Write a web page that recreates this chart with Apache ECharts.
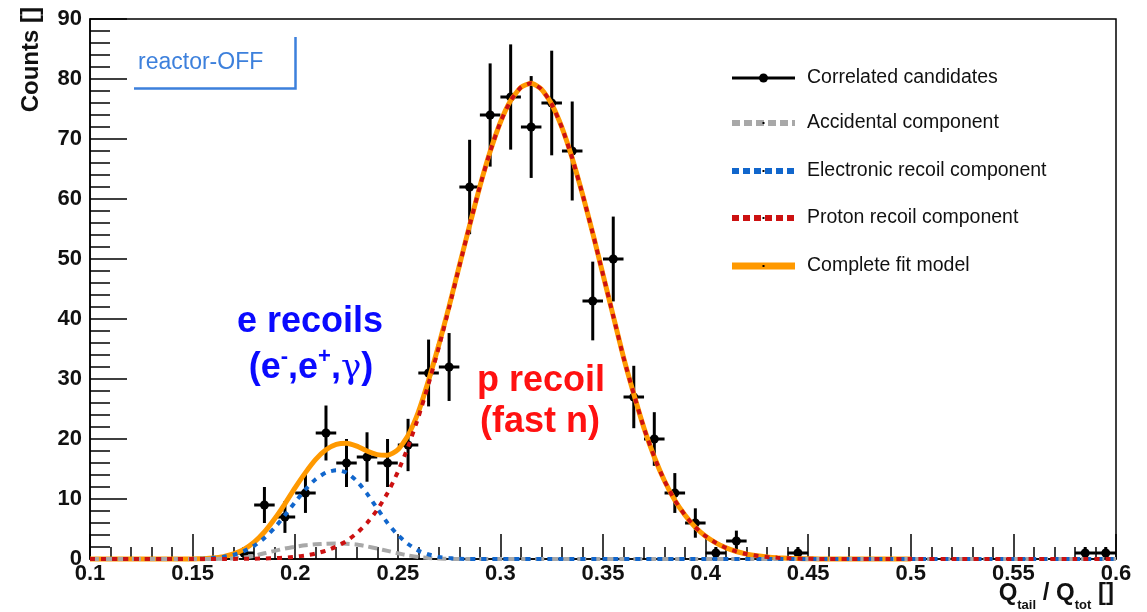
<!DOCTYPE html>
<html>
<head>
<meta charset="utf-8">
<script src="https://cdn.jsdelivr.net/npm/echarts@6/dist/echarts.min.js"></script>
<style>
  html, body { margin: 0; padding: 0; background: #fff; }
  #chart { width: 1147px; height: 612px; }
</style>
</head>
<body>
<div id="chart"></div>
<script>
// Histogram of correlated candidates: bin centres, counts and Poisson errors
const binCenters = [0.175, 0.185, 0.195, 0.205, 0.215, 0.225, 0.235, 0.245, 0.255, 0.265,
                    0.275, 0.285, 0.295, 0.305, 0.315, 0.325, 0.335, 0.345, 0.355, 0.365,
                    0.375, 0.385, 0.395, 0.405, 0.415, 0.445, 0.585, 0.595];
const counts = [1, 9, 7, 11, 21, 16, 17, 16, 19, 31,
                32, 62, 74, 77, 72, 76, 68, 43, 50, 27,
                20, 11, 6, 1, 3, 1, 1, 1];
const countErrors = [1, 3, 2.65, 3.32, 4.58, 4, 4.12, 4, 4.36, 5.57,
                     5.66, 7.87, 8.6, 8.77, 8.49, 8.72, 8.25, 6.56, 7.07, 5.2,
                     4.47, 3.32, 2.45, 1, 1.73, 1, 1, 1];
const binHalfWidth = 0.005;

// Fit components sampled along Q_tail / Q_tot
const curveX = [0.10, 0.12, 0.14, 0.15, 0.155,
  0.160, 0.165, 0.170, 0.175, 0.180, 0.185, 0.190, 0.195, 0.200, 0.205,
  0.210, 0.215, 0.220, 0.225, 0.230, 0.235, 0.240, 0.245, 0.250, 0.255,
  0.260, 0.265, 0.270, 0.275, 0.280, 0.285, 0.290, 0.295, 0.300, 0.305,
  0.310, 0.315, 0.320, 0.325, 0.330, 0.335, 0.340, 0.345, 0.350, 0.355,
  0.360, 0.365, 0.370, 0.375, 0.380, 0.385, 0.390, 0.395, 0.400, 0.405,
  0.410, 0.415, 0.420, 0.425, 0.430, 0.435, 0.440, 0.445, 0.450, 0.455,
  0.460,
  0.47, 0.48, 0.49, 0.50, 0.52, 0.54, 0.56, 0.58, 0.60];

const accidental = [0, 0, 0, 0, 0,
  0, 0.05, 0.1, 0.25, 0.55, 0.95, 1.35, 1.75, 2.05, 2.3,
  2.45, 2.55, 2.6, 2.55, 2.4, 2.1, 1.75, 1.35, 0.95, 0.6,
  0.35, 0.18, 0.08, 0.03, 0, 0, 0, 0, 0, 0,
  0, 0, 0, 0, 0, 0, 0, 0, 0, 0,
  0, 0, 0, 0, 0, 0, 0, 0, 0, 0,
  0, 0, 0, 0, 0, 0, 0, 0, 0, 0,
  0,
  0, 0, 0, 0, 0, 0, 0, 0, 0];

const electronic = [0, 0, 0, 0.02, 0.06,
  0.15, 0.35, 0.7, 1.3, 2.2, 3.5, 5.2, 7.3, 9.5, 11.6,
  13.3, 14.4, 14.8, 14.4, 13.0, 10.9, 8.4, 6.0, 4.0, 2.5,
  1.4, 0.75, 0.35, 0.15, 0.05, 0, 0, 0, 0, 0,
  0, 0, 0, 0, 0, 0, 0, 0, 0, 0,
  0, 0, 0, 0, 0, 0, 0, 0, 0, 0,
  0, 0, 0, 0, 0, 0, 0, 0, 0, 0,
  0,
  0, 0, 0, 0, 0, 0, 0, 0, 0];

const proton = [0, 0, 0, 0, 0,
  0, 0.01, 0.02, 0.03, 0.05, 0.08, 0.14, 0.23, 0.38, 0.59,
  0.92, 1.39, 2.07, 3.0, 4.3, 6.0, 8.2, 11.0, 14.5, 18.7,
  23.6, 29.2, 35.3, 41.9, 48.8, 55.6, 62.1, 67.9, 72.8, 76.4,
  78.6, 79.3, 78.3, 75.8, 71.9, 66.8, 60.8, 54.3, 47.4, 40.5,
  33.6, 27.5, 21.8, 17.0, 13.0, 9.8, 7.3, 5.3, 3.8, 2.7,
  1.85, 1.25, 0.82, 0.53, 0.34, 0.21, 0.13, 0.08, 0.04, 0.02,
  0.01,
  0, 0, 0, 0, 0, 0, 0, 0, 0];

const totalFit = [0, 0, 0, 0.02, 0.06,
  0.15, 0.4, 0.85, 1.6, 2.8, 4.5, 6.7, 9.2, 11.9, 14.4,
  16.6, 18.2, 19.1, 19.3, 18.8, 18.0, 17.4, 17.3, 18.2, 20.6,
  24.5, 29.8, 35.7, 42.1, 48.9, 55.6, 62.1, 67.9, 72.8, 76.4,
  78.6, 79.3, 78.3, 75.8, 71.9, 66.8, 60.8, 54.3, 47.4, 40.5,
  33.6, 27.5, 21.8, 17.0, 13.0, 9.8, 7.3, 5.3, 3.8, 2.7,
  1.85, 1.25, 0.82, 0.53, 0.34, 0.21, 0.13, 0.08, 0.04, 0.02,
  0.01,
  0, 0, 0, 0, null, null, null, null, null];

const legendNames = ['Correlated candidates', 'Accidental component', 'Electronic recoil component',
                     'Proton recoil component', 'Complete fit model'];

const FONT = '"Liberation Sans", Arial, Helvetica, sans-serif';
const INK = '#111111';
const C_ORANGE = '#ff9900';
const C_GRAY = '#a8a8a8';
const C_BLUE = '#1166cc';
const C_RED = '#cc1111';
const C_BOX = '#3d80dc';

function pairs(ys) { return curveX.map((x, i) => [x, ys[i]]); }

function curveSeries(name, ys, color, width, dash, z) {
  return {
    name: name, type: 'line', data: pairs(ys), showSymbol: false, symbol: 'none',
    smooth: 0.2, clip: false, z: z, silent: true, animation: false,
    lineStyle: { color: color, width: width, type: dash || 'solid', cap: 'butt' }
  };
}

const chart = echarts.init(document.getElementById('chart'), null, { renderer: 'canvas' });

// Legend rows drawn beside the fit
const legendRowsY = [78, 123, 171, 218, 266];
const legendStyles = [
  { stroke: '#000', lineWidth: 3 },
  { stroke: C_GRAY, lineWidth: 6, lineDash: [8, 4] },
  { stroke: C_BLUE, lineWidth: 6, lineDash: [7, 4] },
  { stroke: C_RED, lineWidth: 6, lineDash: [7, 4] },
  { stroke: C_ORANGE, lineWidth: 7 }
];
const legendGraphics = [];
legendNames.forEach((name, i) => {
  const y = legendRowsY[i];
  legendGraphics.push({ type: 'line', shape: { x1: 732, y1: y, x2: 795, y2: y }, style: legendStyles[i], z: 10 });
  if (i === 0) {
    legendGraphics.push({ type: 'circle', shape: { cx: 763.5, cy: y, r: 4.5 }, style: { fill: '#000' }, z: 11 });
  } else {
    legendGraphics.push({ type: 'rect', shape: { x: 762.5, y: y - 1, width: 2, height: 2 }, style: { fill: '#000' }, z: 11 });
  }
  legendGraphics.push({
    type: 'text', x: 807, y: y, z: 10,
    style: { text: name, font: '19.5px ' + FONT, fill: INK, align: 'left', verticalAlign: 'middle' }
  });
});

const option = {
  animation: false,
  backgroundColor: '#ffffff',
  grid: { left: 90, right: 31, top: 19, bottom: 53, show: true, borderColor: '#000', borderWidth: 1.5, backgroundColor: 'transparent' },
  xAxis: {
    type: 'value', min: 0.1, max: 0.6, interval: 0.05,
    axisLine: { show: true, lineStyle: { color: '#000', width: 1.5 } },
    axisTick: { show: true, inside: true, length: 25, lineStyle: { color: '#000', width: 1.5 } },
    minorTick: { show: true, splitNumber: 5, length: 12, lineStyle: { color: '#000', width: 1.5 } },
    splitLine: { show: false }, minorSplitLine: { show: false },
    axisLabel: { show: true, color: INK, fontFamily: FONT, fontWeight: 'bold', fontSize: 22, margin: 4,
                 showMinLabel: true, showMaxLabel: true, hideOverlap: false }
  },
  yAxis: {
    type: 'value', min: 0, max: 90, interval: 10,
    axisLine: { show: true, lineStyle: { color: '#000', width: 1.5 } },
    axisTick: { show: true, inside: true, length: 37, lineStyle: { color: '#000', width: 1.5 } },
    minorTick: { show: true, splitNumber: 5, length: 20, lineStyle: { color: '#000', width: 1.5 } },
    splitLine: { show: false }, minorSplitLine: { show: false },
    axisLabel: { show: true, color: INK, fontFamily: FONT, fontWeight: 'bold', fontSize: 22, margin: 8,
                 showMinLabel: true, showMaxLabel: true, hideOverlap: false }
  },
  series: [
    {
      name: legendNames[0], type: 'custom', clip: false, z: 2, silent: true,
      data: binCenters.map((x, i) => [x, counts[i], countErrors[i]]),
      encode: { x: 0, y: 1 },
      renderItem: function (params, api) {
        const x = api.value(0), y = api.value(1), e = api.value(2);
        const c = api.coord([x, y]);
        const l = api.coord([x - binHalfWidth, y]);
        const r = api.coord([x + binHalfWidth, y]);
        const t = api.coord([x, y + e]);
        const b = api.coord([x, Math.max(y - e, 0)]);
        const st = { stroke: '#000', lineWidth: 3 };
        return {
          type: 'group',
          children: [
            { type: 'line', shape: { x1: l[0], y1: l[1], x2: r[0], y2: r[1] }, style: st },
            { type: 'line', shape: { x1: t[0], y1: t[1], x2: b[0], y2: b[1] }, style: st },
            { type: 'circle', shape: { cx: c[0], cy: c[1], r: 4.5 }, style: { fill: '#000' } }
          ]
        };
      }
    },
    curveSeries(legendNames[4], totalFit, C_ORANGE, 5, 'solid', 3),
    curveSeries(legendNames[1], accidental, C_GRAY, 4, [9, 5], 4),
    curveSeries(legendNames[2], electronic, C_BLUE, 4, [5, 6], 5),
    curveSeries(legendNames[3], proton, C_RED, 4, [5, 6], 6)
  ],
  graphic: [
    // y-axis title
    { type: 'text', x: 31, y: 7, rotation: Math.PI / 2, z: 10,
      style: { text: 'Counts []', font: 'bold 24px ' + FONT, fill: INK, align: 'right', verticalAlign: 'middle' } },
    // x-axis title with subscripts
    { type: 'text', x: 1114, y: 612, z: 10,
      style: {
        text: '{q|Q}{s|tail}{q| / Q}{s|tot}{q| []}',
        align: 'right', verticalAlign: 'bottom',
        rich: {
          q: { font: 'bold 24px ' + FONT, fill: INK, verticalAlign: 'top', lineHeight: 31 },
          s: { font: 'bold 13px ' + FONT, fill: INK, verticalAlign: 'bottom', lineHeight: 31 }
        }
      } },
    // reactor status box
    { type: 'polyline', z: 10, shape: { points: [[134, 88.5], [295.5, 88.5], [295.5, 37]] },
      style: { stroke: C_BOX, lineWidth: 2.5, fill: null } },
    { type: 'text', x: 138, y: 63, z: 10,
      style: { text: 'reactor-OFF', font: '23px ' + FONT, fill: C_BOX, align: 'left', verticalAlign: 'middle' } },
    // component annotations
    { type: 'text', x: 310, y: 322, z: 10,
      style: { text: 'e recoils', font: 'bold 36px ' + FONT, fill: '#0a0aff', align: 'center', verticalAlign: 'middle' } },
    { type: 'text', x: 311, y: 366, z: 10,
      style: {
        text: '{b|(e}{u|-}{b|,e}{u|+}{b|,}{g|γ}{b|)}',
        align: 'center', verticalAlign: 'middle',
        rich: {
          b: { font: 'bold 36px ' + FONT, fill: '#0a0aff', verticalAlign: 'bottom', lineHeight: 40 },
          u: { font: 'bold 22px ' + FONT, fill: '#0a0aff', verticalAlign: 'top', lineHeight: 40 },
          g: { font: '34px "DejaVu Serif", serif', fill: '#0a0aff', verticalAlign: 'bottom', lineHeight: 40 }
        }
      } },
    { type: 'text', x: 541, y: 381, z: 10,
      style: { text: 'p recoil', font: 'bold 36px ' + FONT, fill: '#ff1111', align: 'center', verticalAlign: 'middle' } },
    { type: 'text', x: 540, y: 422, z: 10,
      style: { text: '(fast n)', font: 'bold 36px ' + FONT, fill: '#ff1111', align: 'center', verticalAlign: 'middle' } }
  ].concat(legendGraphics)
};

chart.setOption(option);
</script>
</body>
</html>
